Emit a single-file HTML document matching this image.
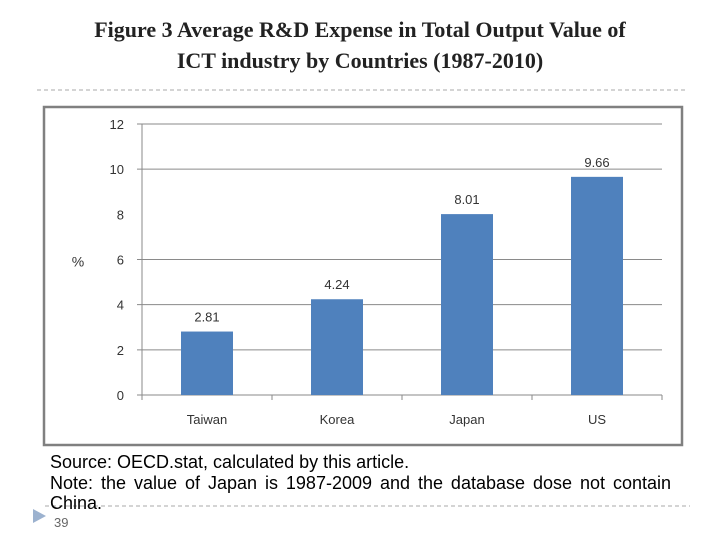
<!DOCTYPE html>
<html><head><meta charset="utf-8"><style>
body{margin:0;width:720px;height:540px;background:#fff;overflow:hidden;position:relative;font-family:"Liberation Sans",sans-serif}
.t{position:absolute;left:0;width:720px;text-align:center;font-family:"Liberation Serif",serif;font-size:22px;font-weight:bold;color:#222;line-height:31px}
.n{position:absolute;left:50px;width:621px;font-size:18px;color:#000;line-height:20.5px;text-align:justify}
</style></head><body>
<div class="t" style="top:14px">Figure 3 Average R&amp;D Expense in Total Output Value of<br>ICT industry by Countries (1987-2010)</div>
<svg width="720" height="540" style="position:absolute;left:0;top:0">
<line x1="37" y1="90" x2="686" y2="90" stroke="#aaa" stroke-dasharray="4,3"/>
<line x1="45" y1="506" x2="690" y2="506" stroke="#aaa" stroke-dasharray="4,3"/>
<polygon points="33,509 46,516 33,523" fill="#9cb2cf"/>
<text x="54" y="527" font-size="13" fill="#666" font-family="Liberation Sans, sans-serif">39</text>
<rect x="44" y="107" width="638" height="338" fill="#fff" stroke="#808080" stroke-width="2.5"/>
<g id="plot"></g>
</svg>
<div class="n" style="top:452px">Source: OECD.stat, calculated by this article.<br>Note: the value of Japan is 1987-2009 and the database dose not contain China.</div>
<script>
const categories=["Taiwan","Korea","Japan","US"];
const values=[2.81,4.24,8.01,9.66];
const valueLabels=["2.81","4.24","8.01","9.66"];
const yTicks=[0,2,4,6,8,10,12];
const gridTicks=[2,4,6,10,12];
const X0=142,X1=662,Y0=395,Y1=124,YMAX=12;
const ns="http://www.w3.org/2000/svg";
const g=document.getElementById('plot');
const y=v=>Y0-(v/YMAX)*(Y0-Y1);
const bw=(X1-X0)/categories.length;
const x=i=>X0+bw*i;
function mk(t,a,p){const e=document.createElementNS(ns,t);for(const k in a)e.setAttribute(k,a[k]);(p||g).appendChild(e);return e;}
gridTicks.forEach(v=>{const l=mk('line',{x1:X0-5,x2:X1,y1:y(v),y2:y(v),stroke:'#8a8a8a','stroke-width':1});

});
yTicks.forEach(v=>{const t=mk('text',{x:X0-18,y:y(v)+5,'text-anchor':'end','font-size':13,fill:'#333'});t.textContent=v;

});
const yl=mk('text',{x:78,y:y(6)+7,'text-anchor':'middle','font-size':14,fill:'#333'});yl.textContent='%';


const ax=mk('line',{x1:X0,x2:X0,y1:Y1,y2:Y0,stroke:'#8a8a8a'});


const xa=mk('line',{x1:X0-5,x2:X1,y1:Y0,y2:Y0,stroke:'#8a8a8a'});


for(let i=0;i<=categories.length;i++){const tk=mk('line',{x1:x(i),x2:x(i),y1:Y0,y2:Y0+5,stroke:'#8a8a8a'});

}
categories.forEach((c,i)=>{
const cx=x(i)+bw/2,w=52;
const r=mk('rect',{x:cx-w/2,y:y(values[i]),width:w,height:Y0-y(values[i]),fill:'#4f81bd'});


const vl=mk('text',{x:cx,y:y(values[i])-10,'text-anchor':'middle','font-size':13,fill:'#333'});vl.textContent=valueLabels[i];


const cl=mk('text',{x:cx,y:424,'text-anchor':'middle','font-size':13,fill:'#333'});cl.textContent=c;


});
</script>
</body></html>
